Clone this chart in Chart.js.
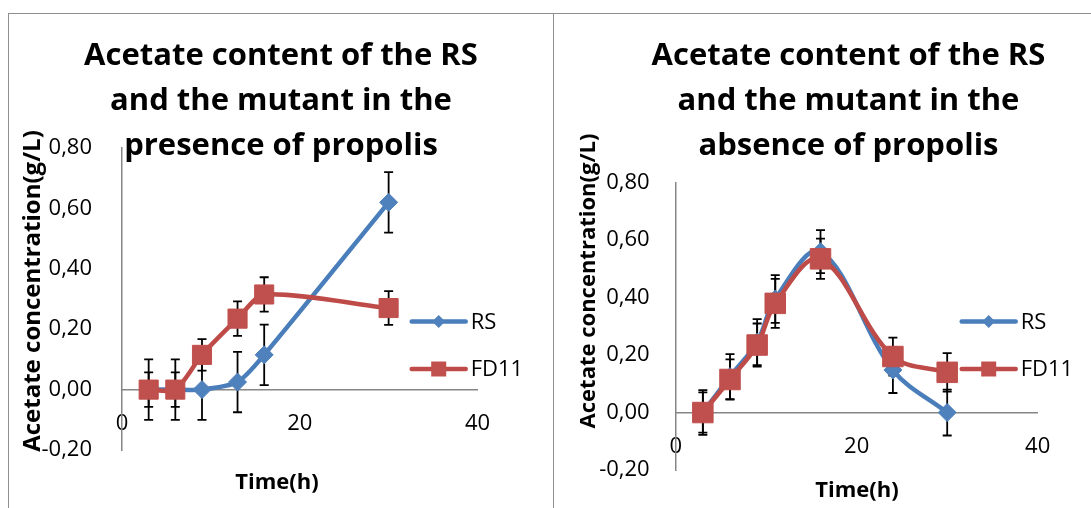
<!DOCTYPE html>
<html>
<head>
<meta charset="utf-8">
<script src="https://cdn.jsdelivr.net/npm/chart.js@4.4.1/dist/chart.umd.min.js"></script>
<style>
  html, body { margin: 0; padding: 0; background: #fff; overflow: hidden; width: 1091px; height: 508px; }
  .box { position: absolute; top: 13px; height: 520px; border: 1px solid #8f8f8f; background: #fff; }
  #boxA { left: 8px; width: 544px; }
  #boxB { left: 553px; width: 589px; }
  canvas { display: block; }
</style>
</head>
<body>
<div class="box" id="boxA"><canvas id="chartA" width="544" height="520"></canvas></div>
<div class="box" id="boxB"><canvas id="chartB" width="589" height="520"></canvas></div>
<script>
// Acetate measurements (g/L) with standard deviations, sampled over time (h)
const seriesNames = ['RS', 'FD11'];

const presenceTimes   = [3, 6, 9, 13, 16, 30];
const presenceRS      = [0, 0, 0, 0.025, 0.115, 0.62];
const presenceRSErr   = [0.1, 0.1, 0.1, 0.1, 0.1, 0.1];
const presenceFD11    = [0, 0, 0.115, 0.235, 0.315, 0.27];
const presenceFD11Err = [0.057, 0.057, 0.052, 0.057, 0.057, 0.056];

const absenceTimes    = [3, 6, 9, 11, 16, 24, 30];
const absenceRS       = [0, 0.125, 0.245, 0.395, 0.56, 0.148, 0];
const absenceRSErr    = [0.078, 0.078, 0.08, 0.083, 0.075, 0.08, 0.08];
const absenceFD11     = [0, 0.115, 0.235, 0.38, 0.535, 0.195, 0.14];
const absenceFD11Err  = [0.07, 0.07, 0.075, 0.085, 0.07, 0.066, 0.067];

const xTicks = [0, 20, 40];
const yTicks = [-0.2, 0, 0.2, 0.4, 0.6, 0.8];

const FONT = 'Open Sans';
const BLUE = '#4F81BD', BLUE_LINE = '#4A7EBB';
const RED = '#C0504D', RED_LINE = '#BE4B48';

// vertical error bars with caps, drawn underneath lines and markers
const errorBars = {
  id: 'errorBars',
  beforeDatasetsDraw(chart, args, o) {
    const { ctx, scales: { x, y } } = chart;
    ctx.save();
    ctx.strokeStyle = o.color;
    ctx.lineWidth = o.width;
    chart.data.datasets.forEach(ds => {
      (ds.errors || []).forEach((e, i) => {
        const p = ds.data[i];
        const px = x.getPixelForValue(p.x);
        const top = y.getPixelForValue(p.y + e);
        const bot = y.getPixelForValue(p.y - e);
        ctx.beginPath();
        ctx.moveTo(px, top); ctx.lineTo(px, bot);
        ctx.moveTo(px - o.cap, top); ctx.lineTo(px + o.cap, top);
        ctx.moveTo(px - o.cap, bot); ctx.lineTo(px + o.cap, bot);
        ctx.stroke();
      });
    });
    ctx.restore();
  }
};

// series key: line sample with marker, then the series name
const seriesKey = {
  id: 'seriesKey',
  afterDraw(chart, args, o) {
    const { ctx } = chart;
    ctx.save();
    seriesNames.forEach((name, i) => {
      const ds = chart.data.datasets.find(d => d.label === name);
      const yy = o.rows[i];
      ctx.strokeStyle = ds.borderColor;
      ctx.lineWidth = ds.borderWidth;
      ctx.lineCap = 'round';
      ctx.beginPath();
      ctx.moveTo(o.x0, yy); ctx.lineTo(o.x1, yy);
      ctx.stroke();
      const cx = (o.x0 + o.x1) / 2;
      ctx.fillStyle = ds.pointBackgroundColor;
      ctx.beginPath();
      if (ds.pointStyle === 'rectRot') {
        const r = o.diamond;
        ctx.moveTo(cx - r, yy); ctx.lineTo(cx, yy - r); ctx.lineTo(cx + r, yy); ctx.lineTo(cx, yy + r);
        ctx.closePath();
      } else {
        ctx.rect(cx - o.square / 2, yy - o.square / 2, o.square, o.square);
      }
      ctx.fill();
      ctx.fillStyle = '#000';
      ctx.font = `${o.size}px "${FONT}"`;
      ctx.textAlign = 'left';
      ctx.textBaseline = 'middle';
      ctx.fillText(name, o.textX, yy + 1);
    });
    ctx.restore();
  }
};

// axis captions
const axisCaptions = {
  id: 'axisCaptions',
  afterDraw(chart, args, o) {
    const { ctx } = chart;
    ctx.save();
    ctx.fillStyle = '#000';
    ctx.textAlign = 'center';
    ctx.textBaseline = 'middle';
    ctx.font = `bold ${o.xSize}px "${FONT}"`;
    ctx.fillText(o.xText, o.xAt[0], o.xAt[1]);
    ctx.translate(o.yAt[0], o.yAt[1]);
    ctx.rotate(-Math.PI / 2);
    ctx.font = `bold ${o.ySize}px "${FONT}"`;
    ctx.fillText(o.yText, 0, 0);
    ctx.restore();
  }
};

function points(times, vals) {
  return times.map((t, i) => ({ x: t, y: vals[i] }));
}

function buildChart(id, s) {
  return new Chart(document.getElementById(id), {
    type: 'line',
    data: {
      datasets: [
        {
          label: seriesNames[0], data: points(s.times, s.rs), errors: s.rsErr,
          borderColor: BLUE_LINE, backgroundColor: BLUE, borderWidth: 4.5,
          pointStyle: 'rectRot', pointRadius: 9, pointBorderWidth: 1,
          pointBackgroundColor: BLUE, pointBorderColor: BLUE,
          tension: s.tension, order: 1
        },
        {
          label: seriesNames[1], data: points(s.times, s.fd), errors: s.fdErr,
          borderColor: RED_LINE, backgroundColor: RED, borderWidth: 4.5,
          pointStyle: 'rect', pointRadius: s.squareR, pointBorderWidth: 1,
          pointBackgroundColor: RED, pointBorderColor: RED,
          tension: s.tension, order: 0
        }
      ]
    },
    options: {
      responsive: false,
      animation: false,
      devicePixelRatio: 1,
      events: [],
      layout: { padding: { left: 0, top: 0, right: 0, bottom: s.padBottom } },
      plugins: {
        legend: { display: false },
        tooltip: { enabled: false },
        title: {
          display: true, text: s.title, color: '#000',
          font: { family: FONT, size: 31, weight: 'bold', lineHeight: 45 / 31 },
          padding: { top: 19.5, bottom: s.titleGap }
        },
        errorBars: { color: '#000', width: 1.8, cap: 4.5 },
        seriesKey: { rows: [307.5, 355], x0: s.keyX0, x1: s.keyX0 + 54, textX: s.keyX0 + 59,
                     size: 22, diamond: 6.5, square: 15 },
        axisCaptions: { xText: 'Time(h)', xSize: 22, xAt: s.xCap,
                        yText: 'Acetate concentration(g/L)', ySize: s.ySize, yAt: s.yCap }
      },
      scales: {
        x: {
          type: 'linear', position: { y: 0 }, min: xTicks[0], max: xTicks[xTicks.length - 1],
          afterBuildTicks: sc => { sc.ticks = xTicks.map(v => ({ value: v })); },
          ticks: { padding: 20.8, color: '#000', font: { family: FONT, size: 22 } },
          grid: { display: false, drawTicks: false },
          border: { display: true, color: '#868686', width: 1.5 }
        },
        y: {
          type: 'linear', min: yTicks[0], max: yTicks[yTicks.length - 1],
          afterBuildTicks: sc => { sc.ticks = yTicks.map(v => ({ value: v })); },
          afterFit: sc => { sc.width = s.yWidth; },
          ticks: {
            padding: s.yTickPad, color: '#000', font: { family: FONT, size: 22 },
            callback: v => v.toFixed(2).replace('.', ',')
          },
          grid: { display: false, drawTicks: false },
          border: { display: true, color: '#868686', width: 1.5 }
        },
        // empty right-hand gutter that holds the series key beside the plot
        gutter: {
          type: 'linear', position: 'right', display: true,
          ticks: { display: false },
          grid: { display: false, drawTicks: false },
          border: { display: false },
          afterFit: sc => { sc.width = s.gutter; }
        }
      }
    },
    plugins: [errorBars, seriesKey, axisCaptions]
  });
}

buildChart('chartA', {
  title: ['Acetate content of the RS', 'and the mutant in the', 'presence of propolis'],
  times: presenceTimes, rs: presenceRS, rsErr: presenceRSErr, fd: presenceFD11, fdErr: presenceFD11Err,
  tension: 0.25, squareR: 13.5,
  gutter: 75.5, padBottom: 84, titleGap: -20.5,
  yWidth: 113, yTickPad: 30, ySize: 24,
  xCap: [268, 469], yCap: [24.5, 277],
  keyX0: 402.7
});

buildChart('chartB', {
  title: ['Acetate content of the RS', 'and the mutant in the', 'absence of propolis'],
  times: absenceTimes, rs: absenceRS, rsErr: absenceRSErr, fd: absenceFD11, fdErr: absenceFD11Err,
  tension: 0.35, squareR: 14.5,
  gutter: 105.3, padBottom: 64, titleGap: 14.2,
  yWidth: 121.7, yTickPad: 26, ySize: 22,
  xCap: [303, 476.7], yCap: [34.7, 267],
  keyX0: 407.7
});
</script>
</body>
</html>
